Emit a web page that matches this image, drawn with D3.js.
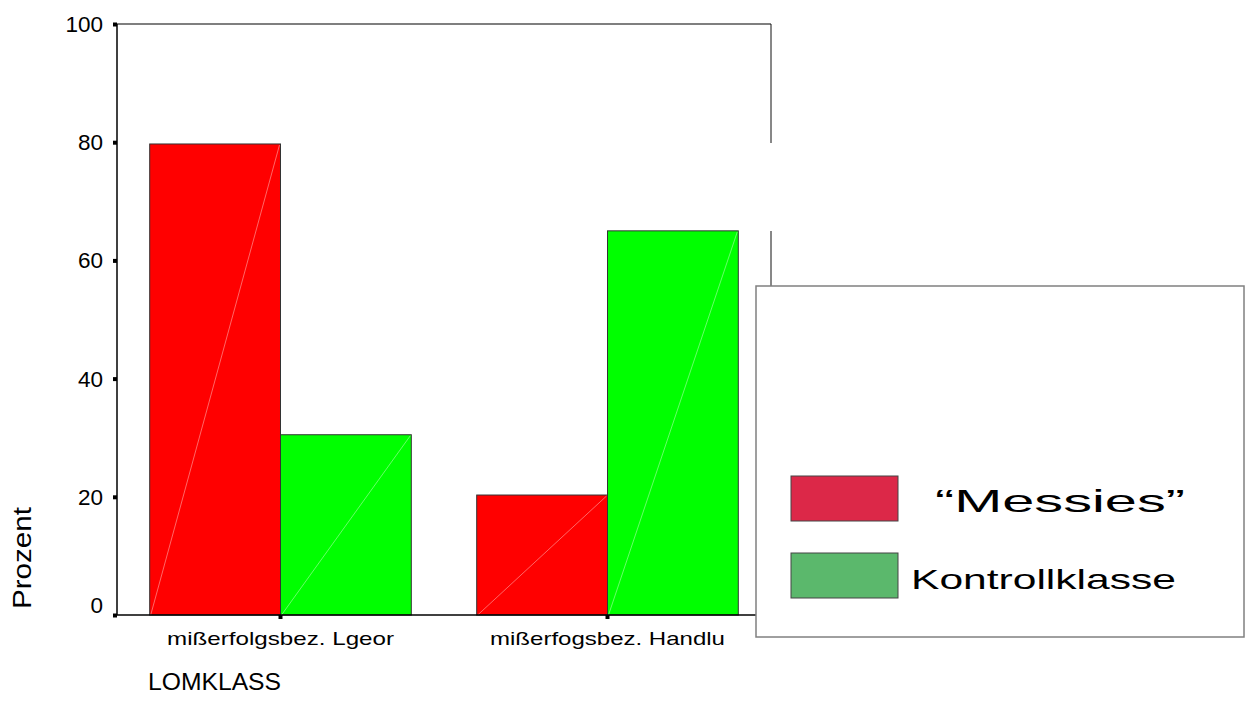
<!DOCTYPE html>
<html>
<head>
<meta charset="utf-8">
<script src="https://cdn.jsdelivr.net/npm/d3@7"></script>
<style>
  body { margin: 0; background: #fff; }
  svg { display: block; font-family: Arial, "Liberation Sans", sans-serif; }
</style>
</head>
<body>
<svg id="chart" width="1249" height="715"></svg>
<script>
const categories = ["mißerfolgsbez. Lgeor", "mißerfogsbez. Handlu"];
const seriesNames = ["“Messies”", "Kontrollklasse"];
const messiesValues = [79.7, 20.3];
const kontrollValues = [30.5, 65.0];
const yTicks = [0, 20, 40, 60, 80, 100];
const xTitle = "LOMKLASS";
const yTitle = "Prozent";

const barColors = ["#ff0000", "#00ff00"];
const legendColors = ["#dc2848", "#5bb86c"];

const svg = d3.select("#chart");
const pLeft = 117, pRight = 771, pTop = 24, pBottom = 615;

const x = d3.scaleBand().domain(categories).range([pLeft, pRight]).paddingInner(0.2).paddingOuter(0.1);
const xs = d3.scaleBand().domain([0, 1]).range([0, x.bandwidth()]);
const y = d3.scaleLinear().domain([0, 100]).range([pBottom, pTop]);

const rows = categories.map((c, i) => ({ cat: c, vals: [messiesValues[i], kontrollValues[i]] }));

// frame top & right
svg.append("line").attr("x1", pLeft).attr("x2", pRight).attr("y1", pTop).attr("y2", pTop)
  .attr("stroke", "#555").attr("stroke-width", 1.5);
svg.append("line").attr("x1", pRight).attr("x2", pRight).attr("y1", pTop).attr("y2", 290)
  .attr("stroke", "#111").attr("stroke-width", 1);
// white occluder on right frame
svg.append("rect").attr("x", 760).attr("y", 143).attr("width", 30).attr("height", 88).attr("fill", "#fff");

// bars
const g = svg.append("g");
rows.forEach(r => {
  r.vals.forEach((v, j) => {
    const bx = x(r.cat) + xs(j), bw = xs.bandwidth();
    g.append("rect").attr("x", bx).attr("y", y(v)).attr("width", bw).attr("height", y(0) - y(v))
      .attr("fill", barColors[j]).attr("stroke", "#333").attr("stroke-width", 1);
    g.append("line").attr("x1", bx + 1).attr("y1", y(0)).attr("x2", bx + bw - 1).attr("y2", y(v) + 1)
      .attr("stroke", "#ffffff").attr("stroke-opacity", 0.4).attr("stroke-width", 1);
  });
});

// axes
const yAxis = svg.append("g").attr("transform", `translate(${pLeft},0)`)
  .call(d3.axisLeft(y).tickValues(yTicks).tickSize(4).tickPadding(10).tickFormat(d3.format("d")));
yAxis.select(".domain").attr("stroke", "#000").attr("stroke-width", 1.5).attr("d", `M0,${pBottom}V${pTop}`);
yAxis.selectAll(".tick line").attr("stroke", "#000").attr("stroke-width", 4);
yAxis.selectAll(".tick text").attr("font-size", 22.5).attr("fill", "#000")
  .attr("dy", d => d === 0 ? "-0.1em" : "0.33em")
  .attr("x", -14);

const xAxis = svg.append("g").attr("transform", `translate(0,${pBottom})`)
  .call(d3.axisBottom(x).tickSize(4).tickPadding(10));
xAxis.select(".domain").attr("stroke", "#000").attr("stroke-width", 1.5).attr("d", `M${pLeft - 4},0H${pRight}`);
xAxis.selectAll(".tick line").attr("stroke", "#000").attr("stroke-width", 4);
xAxis.selectAll(".tick text").attr("font-size", 19).attr("fill", "#000")
  .attr("y", 0).attr("dy", 0).attr("transform", "translate(0,30)")
  .attr("textLength", (d, i) => i === 0 ? 227 : 235).attr("lengthAdjust", "spacingAndGlyphs");

// titles
svg.append("text").attr("x", 148).attr("y", 690).attr("font-size", 24).attr("fill", "#000")
  .attr("textLength", 133).attr("lengthAdjust", "spacingAndGlyphs").text(xTitle);
svg.append("text").attr("transform", "translate(31,609) rotate(-90)").attr("font-size", 25).attr("fill", "#000")
  .attr("textLength", 102).attr("lengthAdjust", "spacingAndGlyphs").text(yTitle);

// legend
const lg = svg.append("g");
lg.append("rect").attr("x", 756).attr("y", 286).attr("width", 488).attr("height", 351)
  .attr("fill", "#fff").attr("stroke", "#808080").attr("stroke-width", 1.5);
const legendItems = [
  { name: seriesNames[0], color: legendColors[0], sy: 476, ty: 512, tx: 935, tl: 250, fs: 32 },
  { name: seriesNames[1], color: legendColors[1], sy: 553, ty: 589, tx: 911, tl: 265, fs: 28 }
];
legendItems.forEach(it => {
  lg.append("rect").attr("x", 791).attr("y", it.sy).attr("width", 107).attr("height", 45)
    .attr("fill", it.color).attr("stroke", "#444").attr("stroke-width", 1);
  lg.append("text").attr("x", it.tx).attr("y", it.ty).attr("font-size", it.fs).attr("fill", "#000")
    .attr("textLength", it.tl).attr("lengthAdjust", "spacingAndGlyphs").text(it.name);
});
</script>
</body>
</html>
